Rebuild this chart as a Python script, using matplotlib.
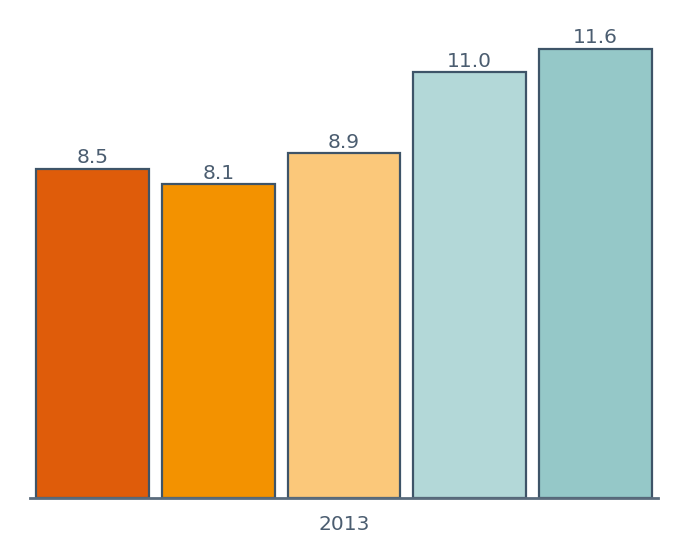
import matplotlib.pyplot as plt

# data
categories = ["a", "b", "c", "d", "e"]
values = [8.5, 8.1, 8.9, 11.0, 11.6]
colors = ["#DF5C0A", "#F39200", "#FBC87A", "#B3D8D8", "#95C8C8"]
group_label = "2013"

edge = "#3E5468"
text_col = "#4B5D70"

fig = plt.figure(figsize=(6.78, 5.36), dpi=100)
ax = fig.add_axes([30 / 678, 38 / 536, 628 / 678, 484 / 536])

x = list(range(len(values)))
bars = ax.bar(x, values, width=113 / 126, color=colors, edgecolor=edge, linewidth=1.6)

for xi, v in zip(x, values):
    ax.annotate(f"{v:.1f}", (xi, v), xytext=(0, 1), textcoords="offset points",
                ha="center", va="bottom", fontsize=14.5, color=text_col)

ax.set_xlim(-0.496, 4.496)
ax.set_ylim(0, 12.5)
ax.set_xticks([2])
ax.set_xticklabels([group_label], fontsize=14.5, color=text_col)
ax.tick_params(axis="x", length=0, pad=12)
ax.set_yticks([])
for s in ["top", "right", "left"]:
    ax.spines[s].set_visible(False)
ax.spines["bottom"].set_color("#5A6B7C")
ax.spines["bottom"].set_linewidth(2)

fig.savefig("out.png", dpi=100)
